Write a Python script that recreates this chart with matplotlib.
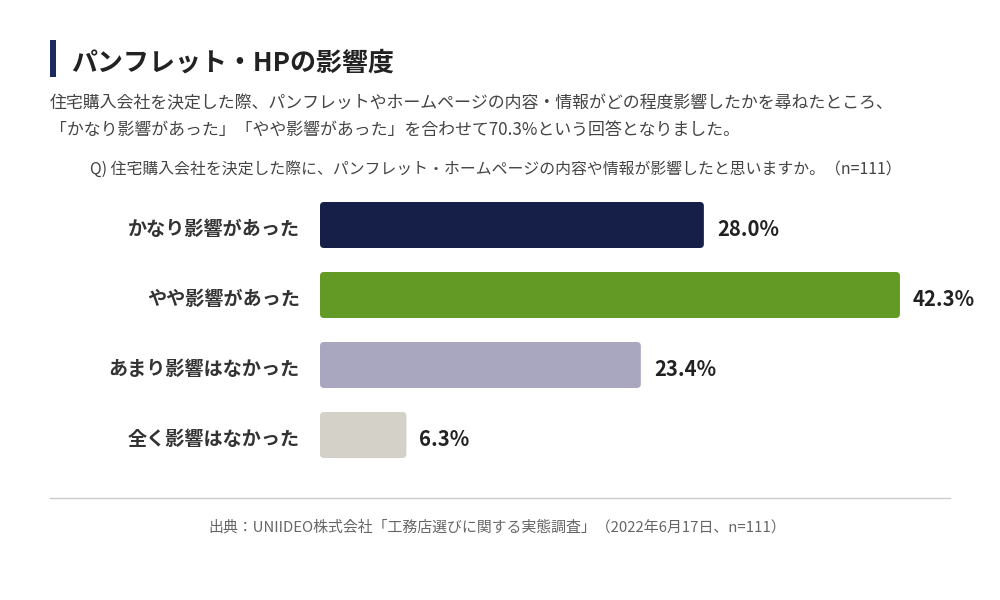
import matplotlib
matplotlib.use('Agg')
import matplotlib.pyplot as plt
from matplotlib.patches import FancyBboxPatch, Rectangle

plt.rcParams['font.family'] = ['Noto Sans CJK JP', 'DejaVu Sans']

# ── Data ──────────────────────────────────────────────────────────────────────
categories = ['かなり影響があった', 'やや影響があった', 'あまり影響はなかった', '全く影響はなかった']
values     = [28.0, 42.3, 23.4, 6.3]
colors     = ['#161F48', '#639A25', '#A9A6C0', '#D4D1C9']

title    = 'パンフレット・HPの影響度'
subtitle = ('住宅購入会社を決定した際、パンフレットやホームページの内容・情報がどの程度影響したかを尋ねたところ、\n'
            '「かなり影響があった」「やや影響があった」を合わせて70.3%という回答となりました。')
question = 'Q) 住宅購入会社を決定した際に、パンフレット・ホームページの内容や情報が影響したと思いますか。（n=111）'
source   = '出典：UNIIDEO株式会社「工務店選びに関する実態調査」（2022年6月17日、n=111）'

# ── Figure ────────────────────────────────────────────────────────────────────
W, H = 1000, 600
fig = plt.figure(figsize=(W / 100, H / 100), dpi=100)
fig.patch.set_facecolor('white')

# axes: x 0..50 % spans 320px → 320+50*13.71 px ; rows 70px apart from y=190
px_per_pct = 13.71
ax = fig.add_axes([320 / W, 1 - 470 / H, 50 * px_per_pct / W, 280 / H])
ax.set_xlim(0, 50)
ax.set_ylim(len(categories) - 0.5, -0.5)
ax.axis('off')

bar_h = 46 / 70
r_x = 4 / px_per_pct
aspect = (4 / 70) / r_x
txt_dy = 4 / 70  # labels sit a little below bar centre
for i, (cat, v, c) in enumerate(zip(categories, values, colors)):
    box = FancyBboxPatch((0, i - bar_h / 2), v, bar_h,
                         boxstyle=f'round,pad=0,rounding_size={r_x}',
                         mutation_aspect=aspect, facecolor=c, edgecolor='none')
    ax.add_patch(box)
    ax.text(v + 13 / px_per_pct, i + txt_dy, f'{v:.1f}%', ha='left', va='center',
            fontsize=14.6, fontweight='bold', color='#222222')
    ax.text(-20 / px_per_pct, i + txt_dy, cat, ha='right', va='center',
            fontsize=13.75, fontweight='bold', color='#333333')

# ── Header texts ──────────────────────────────────────────────────────────────
fig.add_artist(Rectangle((50 / W, 1 - 77 / H), 6 / W, 37 / H,
                         transform=fig.transFigure, facecolor='#1B2A5E', edgecolor='none'))
fig.text(71 / W, 1 - 63 / H, title, ha='left', va='center',
         fontsize=18.7, fontweight='bold', color='#222222')
fig.text(50 / W, 1 - 117 / H, subtitle, ha='left', va='center',
         fontsize=12.2, color='#444444', linespacing=1.6)
fig.text(496 / W, 1 - 169 / H, question, ha='center', va='center',
         fontsize=11.4, color='#444444')

# ── Footer ────────────────────────────────────────────────────────────────────
fig.add_artist(plt.Line2D([50 / W, 950 / W], [1 - 498 / H, 1 - 498 / H],
                          transform=fig.transFigure, color='#CCCCCC', linewidth=1))
fig.text(497 / W, 1 - 527 / H, source, ha='center', va='center',
         fontsize=10.75, color='#666666')

fig.savefig('out.png', dpi=100, facecolor='white')
